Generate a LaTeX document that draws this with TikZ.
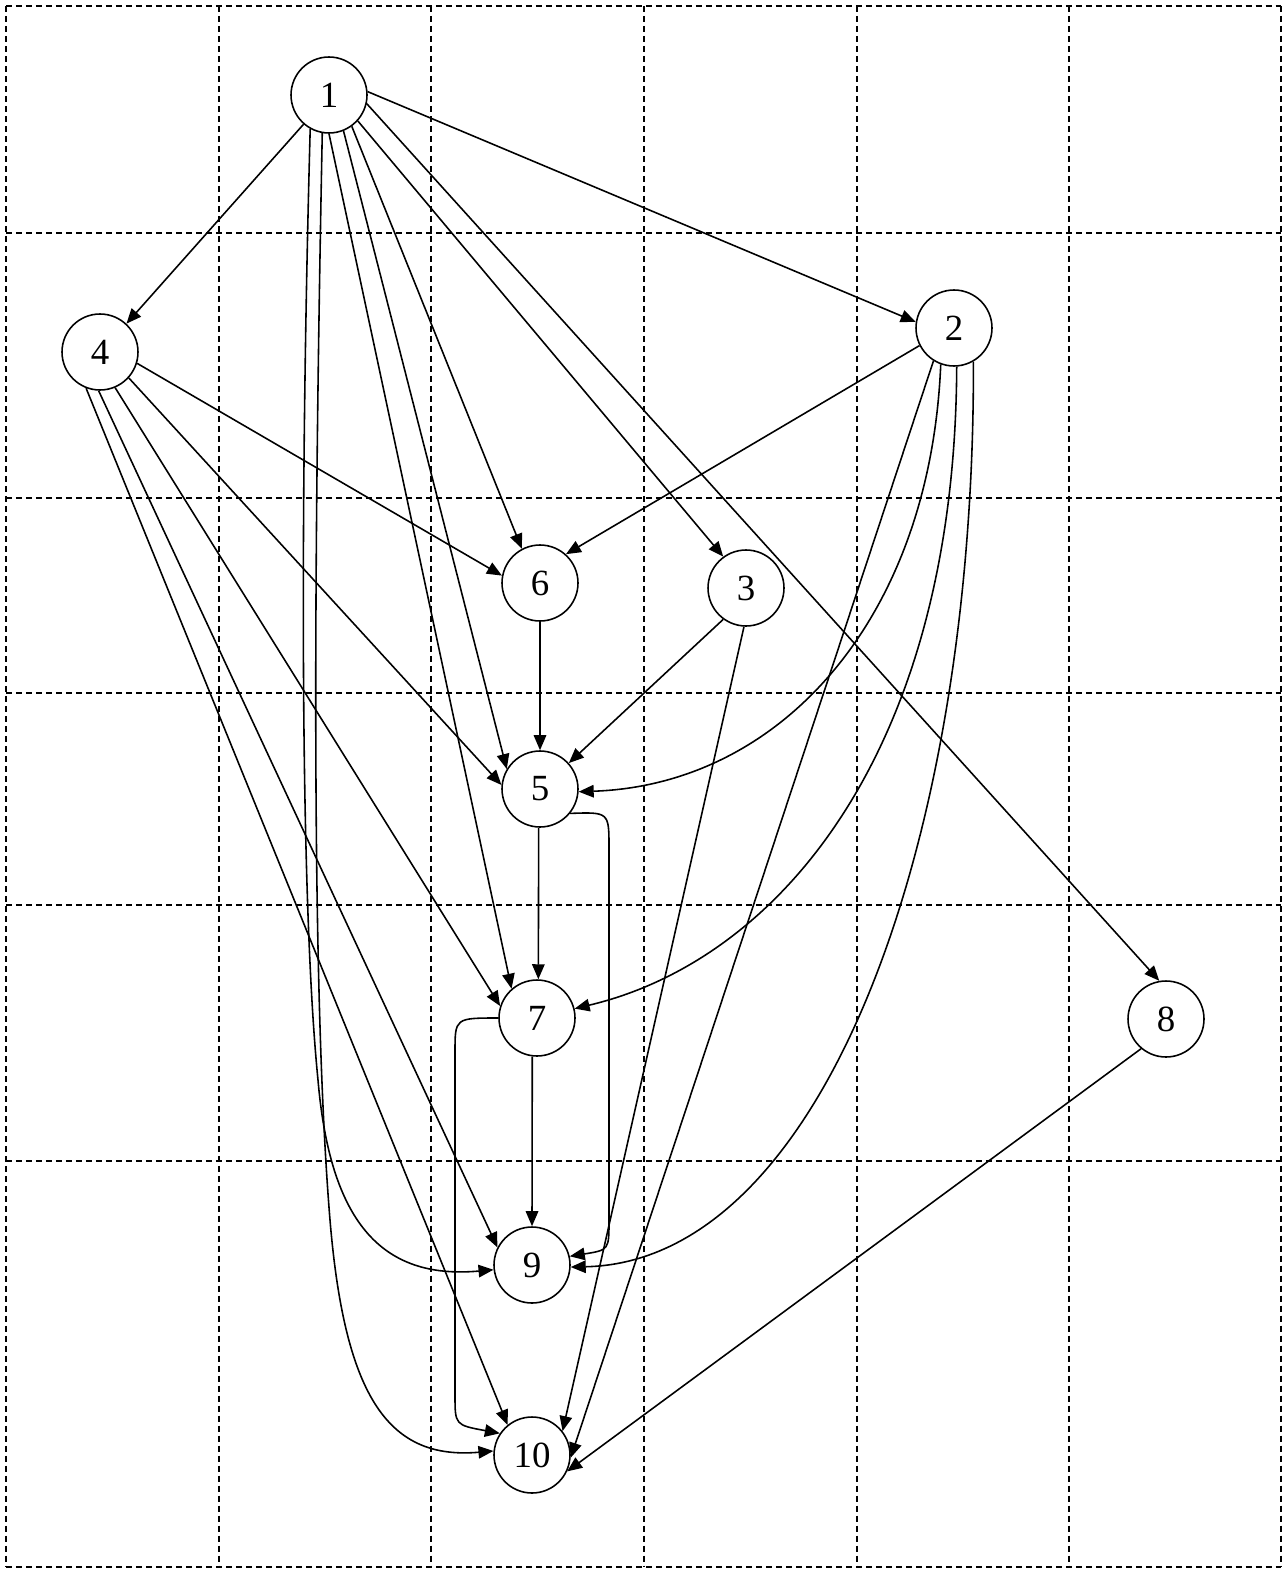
\documentclass[tikz,border=0pt]{standalone}
\usepackage{fontspec}
\setmainfont{Liberation Serif}
\usetikzlibrary{arrows.meta}
\begin{document}
\begin{tikzpicture}[x=0.02cm,y=-0.02cm,
	vtx/.style={circle,draw,line width=0.9pt,minimum size=1.52cm,inner sep=0pt,font=\fontsize{21}{24}\selectfont},
	link/.style={line width=0.9pt,-{Triangle[length=0.3cm,width=0.25cm]}},
	cellline/.style={line width=1pt,dash pattern=on 0.12cm off 0.08cm}]
	\useasboundingbox (0,0) rectangle (1284,1571);
	\foreach \x in {6,219,431,644,857,1069,1281}
		\draw[cellline] (\x,6) -- (\x,1567);
	\foreach \y in {6,233,498,693,905,1161,1567}
		\draw[cellline] (6,\y) -- (1281,\y);
	\node[vtx] (n1) at (329,95) {1};
	\node[vtx] (n2) at (954,328) {2};
	\node[vtx] (n3) at (746,588) {3};
	\node[vtx] (n4) at (100,352) {4};
	\node[vtx] (n5) at (540,789) {5};
	\node[vtx] (n6) at (540,583) {6};
	\node[vtx] (n7) at (537,1018) {7};
	\node[vtx] (n8) at (1166,1019) {8};
	\node[vtx] (n9) at (532,1265) {9};
	\node[vtx] (n10) at (532,1455) {10};
	\draw[link] (n1.-131) -- (n4.47);
	\draw[link] (n1.5) -- (n2.171);
	\draw[link] (n1.-42) -- (n3.126);
	\draw[link] (n1.-54) -- (n6.118);
	\draw[link] (n1.-68) -- (n5.149);
	\draw[link] (n1.-90) -- (n7.131);
	\draw[link] (n1.-13) -- (n8.100);
	\draw[link] (n1.-119) .. controls (300,500) and (300,900) .. (318,1080) .. controls (330,1220) and (380,1280) .. (n9.187);
	\draw[link] (n1.-100) .. controls (313,600) and (312,1000) .. (330,1220) .. controls (345,1400) and (390,1460) .. (n10.174);
	\draw[link] (n4.-17) -- (n6.169);
	\draw[link] (n4.-42) -- (n5.174);
	\draw[link] (n4.-67) -- (n7.162);
	\draw[link] (n4.-92) -- (n9.153);
	\draw[link] (n4.-111) -- (n10.129);
	\draw[link] (n2.207) -- (n6.48);
	\draw[link] (n2.-122) -- (n10.-4);
	\draw[link] (n2.-110) .. controls (930,620) and (780,785) .. (n5.-4);
	\draw[link] (n2.-86) .. controls (955,750) and (780,960) .. (n7.14);
	\draw[link] (n2.-60) .. controls (975,850) and (820,1262) .. (n9.-3);
	\draw[link] (n3.-126) -- (n5.42);
	\draw[link] (n3.-93) -- (n10.38);
	\draw[link] (n6) -- (n5);
	\draw[link] (n5.-92) -- (n7.88);
	\draw[link] (n7.-97) -- (n9.90);
	\draw[link] (n5.-39) .. controls (609,812) .. (609,848) -- (609,1220) .. controls (609,1250) .. (n9.13);
	\draw[link] (n7.180) .. controls (455,1018) .. (455,1052) -- (455,1395) .. controls (455,1425) .. (n10.146);
	\draw[link] (n8.-130) -- (n10.-25);
\end{tikzpicture}
\end{document}
